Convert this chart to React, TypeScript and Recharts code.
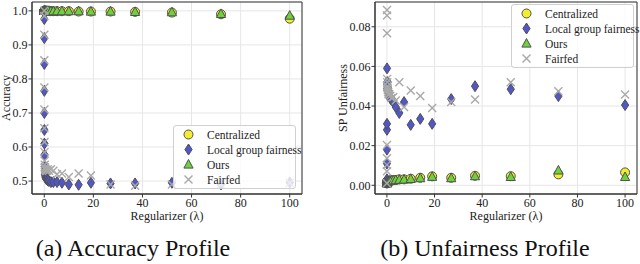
import { ScatterChart, Scatter, XAxis, YAxis, CartesianGrid, Legend, ReferenceArea } from 'recharts';

// regularizer values (log spaced, plus 0)
const lambdas = [0, 0.01, 0.014, 0.019, 0.027, 0.037, 0.052, 0.072, 0.1, 0.14, 0.19, 0.27, 0.37, 0.52, 0.72, 1, 1.4, 1.9, 2.7, 3.7, 5.2, 7.2, 10, 14, 19, 27, 37, 52, 72, 100];

const accCentral = [1.0, 1.0, 1.0, 1.0, 1.0, 1.0, 1.0, 1.0, 1.0, 1.0, 1.0, 1.0, 1.0, 1.0, 1.0, 1.0, 1.0, 1.0, 0.999, 0.999, 0.999, 0.999, 0.999, 0.998, 0.998, 0.998, 0.997, 0.995, 0.99, 0.977];
const accLocal = [1.0, 0.976, 0.92, 0.844, 0.765, 0.7, 0.65, 0.61, 0.577, 0.542, 0.53, 0.52, 0.515, 0.51, 0.507, 0.505, 0.502, 0.5, 0.497, 0.497, 0.497, 0.495, 0.49, 0.489, 0.495, 0.493, 0.493, 0.495, 0.49, 0.496];
const accOurs = [1.0, 1.0, 1.0, 1.0, 1.0, 1.0, 1.0, 1.0, 1.0, 1.0, 1.0, 1.0, 1.0, 1.0, 1.0, 1.0, 1.0, 1.0, 0.999, 0.999, 0.999, 0.999, 0.999, 0.999, 0.998, 0.998, 0.997, 0.996, 0.991, 0.986];
const accFairfed = [1.0, 0.985, 0.93, 0.855, 0.775, 0.71, 0.655, 0.615, 0.585, 0.56, 0.548, 0.54, 0.536, 0.533, 0.53, 0.53, 0.535, 0.53, 0.535, 0.53, 0.52, 0.522, 0.512, 0.522, 0.516, 0.49, 0.486, 0.49, 0.49, 0.494];

const spCentral = [0.001, 0.001, 0.0012, 0.0013, 0.0014, 0.0015, 0.0016, 0.0017, 0.0018, 0.0019, 0.002, 0.002, 0.0021, 0.0022, 0.0022, 0.0023, 0.0024, 0.0025, 0.0026, 0.0027, 0.003, 0.003, 0.0033, 0.0038, 0.0045, 0.0038, 0.0048, 0.0046, 0.0055, 0.0065];
const spLocal = [0.002, 0.003, 0.011, 0.018, 0.028, 0.031, 0.059, 0.052, 0.051, 0.049, 0.048, 0.05, 0.052, 0.049, 0.047, 0.045, 0.044, 0.043, 0.0425, 0.0395, 0.0365, 0.042, 0.0305, 0.0335, 0.031, 0.0435, 0.05, 0.0485, 0.045, 0.0405];
const spOurs = [0.001, 0.001, 0.0011, 0.0012, 0.0013, 0.0014, 0.0015, 0.0016, 0.0017, 0.0018, 0.0019, 0.002, 0.002, 0.0021, 0.0021, 0.0022, 0.0023, 0.0024, 0.0025, 0.0026, 0.0028, 0.0029, 0.0032, 0.0036, 0.0043, 0.0036, 0.0046, 0.0042, 0.0075, 0.0042];
const spFairfed = [0.001, 0.0071, 0.0103, 0.0137, 0.0203, 0.0885, 0.0857, 0.0767, 0.0537, 0.052, 0.05, 0.049, 0.048, 0.047, 0.046, 0.046, 0.045, 0.044, 0.0445, 0.0428, 0.052, 0.0395, 0.0478, 0.045, 0.039, 0.042, 0.0433, 0.052, 0.0475, 0.0458];

const xTicks = [0, 20, 40, 60, 80, 100];
const accTicks = [0.5, 0.6, 0.7, 0.8, 0.9, 1.0];
const spTicks = [0, 0.02, 0.04, 0.06, 0.08];

const toPoints = (ys: number[]) => lambdas.map((x, i) => ({ x, y: ys[i] }));

const EDGE = '#505050';

const CircleMark = (p: any) => <circle cx={p.cx} cy={p.cy} r={4.5} fill="#f2ee2e" stroke={EDGE} strokeWidth={1} />;
const DiamondMark = (p: any) => (
  <polygon points={`${p.cx},${p.cy - 5.5} ${p.cx + 3.6},${p.cy} ${p.cx},${p.cy + 5.5} ${p.cx - 3.6},${p.cy}`} fill="#5156c8" stroke={EDGE} strokeWidth={1} />
);
const TriangleMark = (p: any) => (
  <polygon points={`${p.cx},${p.cy - 5} ${p.cx + 4.6},${p.cy + 3.6} ${p.cx - 4.6},${p.cy + 3.6}`} fill="#6fd13c" stroke={EDGE} strokeWidth={1} />
);
const XMark = (p: any) => (
  <g stroke="#a9a9a9" strokeWidth={1.4}>
    <line x1={p.cx - 4} y1={p.cy - 4} x2={p.cx + 4} y2={p.cy + 4} />
    <line x1={p.cx - 4} y1={p.cy + 4} x2={p.cx + 4} y2={p.cy - 4} />
  </g>
);

const series = [
  { name: 'Centralized', shape: CircleMark },
  { name: 'Local group fairness', shape: DiamondMark },
  { name: 'Ours', shape: TriangleMark },
  { name: 'Fairfed', shape: XMark },
];

const FONT = '"Liberation Serif", serif';
const tickStyle = { fontSize: 12, fill: '#222', fontFamily: FONT };

function LegendBox() {
  return (
    <div
      style={{
        width: 123,
        height: 64,
        boxSizing: 'border-box',
        border: '1px solid #d0d0d0',
        borderRadius: 3,
        background: 'rgba(255,255,255,0.8)',
        fontFamily: FONT,
        fontSize: 11.5,
        color: '#222',
        paddingTop: 1,
      }}
    >
      {series.map((s) => (
        <div key={s.name} style={{ height: 15, display: 'flex', alignItems: 'center' }}>
          <svg width={30} height={15} style={{ flex: 'none' }}>
            {s.shape({ cx: 14.5, cy: 7.5 })}
          </svg>
          <span style={{ marginLeft: 3, whiteSpace: 'nowrap' }}>{s.name}</span>
        </div>
      ))}
    </div>
  );
}

interface PanelProps {
  data: number[][];
  domain: [number, number];
  ticks: number[];
  digits: number;
  yLabel: string;
  yAxisWidth: number;
  labelDx: number;
  legendPos: { left: number; top: number };
  marginRight: number;
}

function Panel({ data, domain, ticks, digits, yLabel, yAxisWidth, labelDx, legendPos, marginRight }: PanelProps) {
  return (
    <ScatterChart width={320} height={224} margin={{ top: 2, right: marginRight, bottom: 0, left: 0 }}>
      <CartesianGrid stroke="#e6e6e6" />
      <ReferenceArea x1={-5} x2={105} y1={domain[0]} y2={domain[1]} fill="none" stroke="#333" strokeWidth={1} />
      <XAxis
        type="number"
        dataKey="x"
        domain={[-5, 105]}
        ticks={xTicks}
        allowDataOverflow
        height={30}
        tickSize={3.5}
        tickMargin={1}
        stroke="#333"
        tick={tickStyle}
        label={{ value: 'Regularizer (λ)', position: 'center', dy: 7, style: { ...tickStyle, textAnchor: 'middle' } }}
      />
      <YAxis
        type="number"
        dataKey="y"
        domain={domain}
        ticks={ticks}
        allowDataOverflow
        width={yAxisWidth}
        tickSize={3.5}
        tickMargin={1}
        stroke="#333"
        tick={tickStyle}
        tickFormatter={(v: number) => v.toFixed(digits)}
        label={{ value: yLabel, angle: -90, position: 'center', dx: labelDx, style: { ...tickStyle, textAnchor: 'middle' } }}
      />
      <Legend
        layout="vertical"
        align="center"
        verticalAlign="middle"
        wrapperStyle={{ left: legendPos.left, top: legendPos.top, width: 123 }}
        content={() => <LegendBox />}
      />
      {series.map((s, i) => (
        <Scatter key={s.name} name={s.name} data={toPoints(data[i])} shape={s.shape} isAnimationActive={false} />
      ))}
    </ScatterChart>
  );
}

const captionStyle = { position: 'absolute' as const, top: 235, textAlign: 'center' as const, fontSize: 24, lineHeight: '27px', color: '#111', whiteSpace: 'nowrap' as const, fontFamily: FONT };

export default function App() {
  return (
    <div style={{ position: 'absolute', left: 0, top: 0, width: 640, height: 264, background: '#fff', fontFamily: FONT }}>
      <div style={{ position: 'absolute', left: 0, top: 0 }}>
        <Panel
          data={[accCentral, accLocal, accOurs, accFairfed]}
          domain={[0.462, 1.026]}
          ticks={accTicks}
          digits={1}
          yLabel="Accuracy"
          yAxisWidth={32}
          labelDx={-10}
          legendPos={{ left: 173, top: 125 }}
          marginRight={18}
        />
      </div>
      <div style={{ position: 'absolute', left: 320, top: 0 }}>
        <Panel
          data={[spCentral, spLocal, spOurs, spFairfed]}
          domain={[-0.0044, 0.0925]}
          ticks={spTicks}
          digits={2}
          yLabel="SP Unfairness"
          yAxisWidth={55}
          labelDx={-5}
          legendPos={{ left: 191, top: 4 }}
          marginRight={3}
        />
      </div>
      <div style={{ ...captionStyle, left: 13, width: 240 }}>(a) Accuracy Profile</div>
      <div style={{ ...captionStyle, left: 355, width: 260 }}>(b) Unfairness Profile</div>
    </div>
  );
}
